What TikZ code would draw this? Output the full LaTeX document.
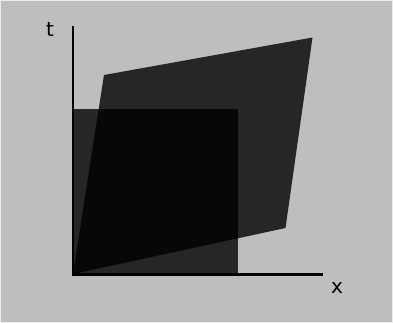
\documentclass[tikz,border=0pt]{standalone}
\usepackage{fontspec}
\setmainfont{DejaVu Sans}
\begin{document}
\begin{tikzpicture}[x=1pt,y=-1pt,
  axis/.style={line width=2.4pt,black},
  shade/.style={fill=black,fill opacity=0.8,draw=none},
  lbl/.style={font=\fontsize{20}{22}\selectfont,inner sep=0pt}]
\useasboundingbox (0,0) rectangle (393,323);
\fill[draw=white!85!gray,line width=1pt,fill={rgb,255:red,190;green,190;blue,190}] (0.5,0.5) rectangle (392.5,322.5);
% parallelogram
\coordinate (o) at (73,274);
\coordinate (p1) at (104,75);
\coordinate (p2) at (312.5,37.5);
\coordinate (p3) at (285.5,228);
\fill[shade] (o) -- (p1) -- (p2) -- (p3) -- cycle;
% square
\coordinate (s1) at (73,109);
\coordinate (s2) at (238,109);
\coordinate (s3) at (238,274);
\fill[shade] (o) -- (s1) -- (s2) -- (s3) -- cycle;
% axes
\coordinate (tend) at (73,26);
\coordinate (xend) at (323,274.5);
\draw[axis] (73,275.2) -- (tend);
\draw[axis] (71.8,274.5) -- (xend);
\node[lbl] (t) at (50,29) {t};
\node[lbl] (x) at (337,288) {x};
\end{tikzpicture}
\end{document}
